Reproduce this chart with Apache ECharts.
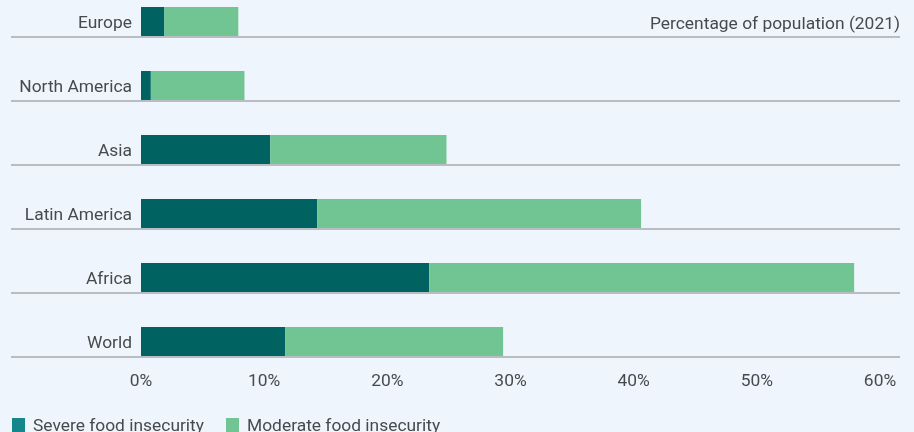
<!DOCTYPE html>
<html>
<head>
<meta charset="utf-8">
<script src="https://cdn.jsdelivr.net/npm/echarts@6/dist/echarts.min.js"></script>
<style>
html,body{margin:0;padding:0;background:#eef5fc;}
#c{width:914px;height:432px;}
</style>
</head>
<body>
<div id="c"></div>
<script>
const categories = ['Europe', 'North America', 'Asia', 'Latin America', 'Africa', 'World'];
const severe = [1.9, 0.8, 10.5, 14.3, 23.4, 11.7];
const moderate = [6.0, 7.6, 14.3, 26.3, 34.5, 17.7];
const spacer = [0, 0, 0, 0, 0, 0];
const xTicks = [0, 10, 20, 30, 40, 50, 60];
const seriesNames = ['Severe food insecurity', 'Moderate food insecurity'];
const title = 'Percentage of population (2021)';

const FONT = 'Roboto, "Liberation Sans", Arial, sans-serif';
const TXT = '#474a4d';
const FS = 17.4;

const chart = echarts.init(document.getElementById('c'), null, {renderer: 'canvas'});
chart.setOption({
  backgroundColor: '#eef5fc',
  animation: false,
  title: {
    text: title, right: 9, top: 11,
    textStyle: {fontFamily: FONT, fontSize: FS, fontWeight: 'normal', color: TXT}
  },
  legend: {
    left: 7, top: 413, itemWidth: 13, itemHeight: 17, itemGap: 22,
    icon: 'rect',
    textStyle: {fontFamily: FONT, fontSize: FS, color: TXT, padding: [0, 0, 0, 3]},
    data: [
      {name: seriesNames[0], itemStyle: {color: '#15878a'}},
      {name: seriesNames[1], itemStyle: {color: '#71c592'}}
    ]
  },
  grid: [
    {left: 141, right: 34, top: 0, bottom: 48, containLabel: false},
    {left: 11, right: 14, top: 37, bottom: 75, containLabel: false}
  ],
  xAxis: [
    {
      type: 'value', gridIndex: 0, min: xTicks[0], max: xTicks[xTicks.length - 1], interval: 10,
      axisLine: {show: false}, axisTick: {show: false}, splitLine: {show: false},
      axisLabel: {formatter: '{value}%', margin: -11, fontFamily: FONT, fontSize: FS, color: TXT}
    },
    {
      type: 'value', gridIndex: 1, min: 0, max: 1, show: false
    }
  ],
  yAxis: [
    {
      type: 'category', gridIndex: 0, data: categories, inverse: true,
      axisLine: {show: false}, axisTick: {show: false}, splitLine: {show: false},
      axisLabel: {margin: 9, fontFamily: FONT, fontSize: FS, color: TXT, verticalAlign: 'bottom', lineHeight: 16}
    },
    {
      type: 'value', gridIndex: 1, min: 1, max: 6, interval: 1, inverse: true,
      axisLine: {show: false}, axisTick: {show: false}, axisLabel: {show: false},
      splitLine: {show: true, showMinLine: true, showMaxLine: true, lineStyle: {color: '#b9bdc1', width: 2}}
    }
  ],
  series: [
    {
      name: seriesNames[0], type: 'bar', stack: 'total', xAxisIndex: 0, yAxisIndex: 0,
      barWidth: 29, barGap: 0, data: severe, itemStyle: {color: '#006261'}
    },
    {
      name: seriesNames[1], type: 'bar', stack: 'total', xAxisIndex: 0, yAxisIndex: 0,
      barWidth: 29, barGap: 0, data: moderate, itemStyle: {color: '#71c592'}
    },
    {
      name: 'spacer', type: 'bar', stack: 'spacer', xAxisIndex: 0, yAxisIndex: 0,
      barWidth: 21, barGap: 0, data: spacer, silent: true,
      itemStyle: {color: 'rgba(0,0,0,0)'}
    }
  ]
});
</script>
</body>
</html>
